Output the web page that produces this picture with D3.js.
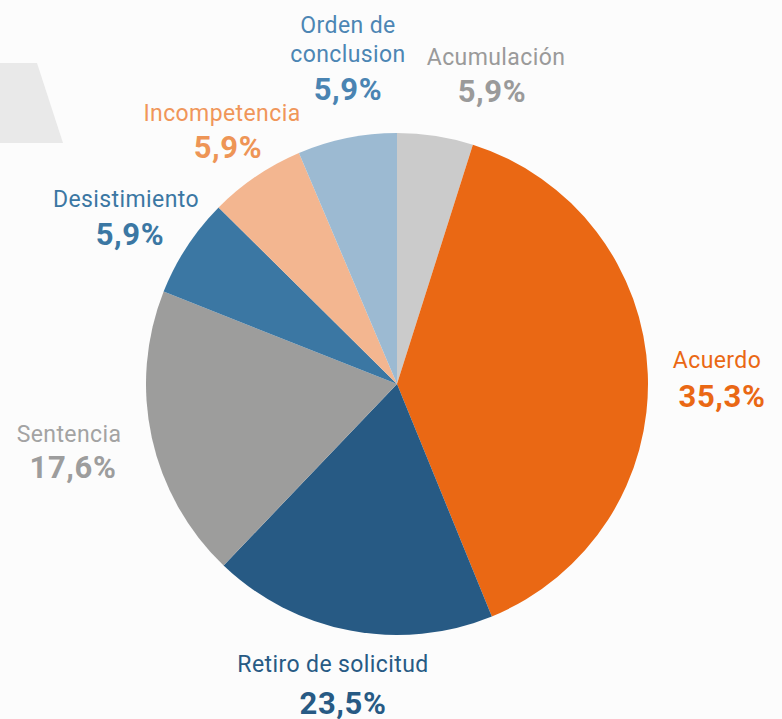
<!DOCTYPE html>
<html>
<head>
    <meta charset="utf-8">
    <script src="https://cdn.jsdelivr.net/npm/d3@7"></script>
    <style>
        body { margin: 0; background: #fcfcfc; font-family: Roboto, sans-serif; }
    </style>
</head>
<body>
<div id="chart"></div>
<script>
    // data (clockwise from 12 o'clock)
    var categories = ["Acumulación", "Acuerdo", "Retiro de solicitud", "Sentencia", "Desistimiento", "Incompetencia", "Orden de conclusion"];
    var pctLabels = ["5,9%", "35,3%", "23,5%", "17,6%", "5,9%", "5,9%", "5,9%"];
    // slice sizes as drawn in the picture (degrees of arc)
    var sliceValues = [17.6, 140.2, 65.9, 67.9, 23.1, 22.3, 23.0];
    var sliceColors = ["#cbcbcb", "#ea6814", "#275a84", "#9d9d9c", "#3b77a3", "#f3b690", "#9cbad2"];
    var labelColors = ["#9a9a9a", "#ea6814", "#275a84", "#a3a3a3", "#3b77a3", "#f0965a", "#4c86b4"];
    var pctColors = ["#9a9a9a", "#ea6814", "#275a84", "#9d9d9d", "#3b77a3", "#ee9556", "#4a84b2"];

    // label layout: name centre x / baseline y, pct centre x / baseline y
    var labelPos = [
        { x: 496, y: 65, px: 492, py: 102 },
        { x: 717, y: 368, px: 722, py: 407 },
        { x: 333, y: 672, px: 343, py: 714 },
        { x: 69, y: 442, px: 73, py: 478 },
        { x: 126, y: 207, px: 130, py: 245 },
        { x: 222, y: 121, px: 228, py: 158 },
        { x: 348, y: 33, px: 348, py: 100 }
    ];

    var W = 782, H = 719;
    var svg = d3.select("#chart").append("svg")
        .attr("width", W).attr("height", H);

    svg.append("rect").attr("width", W).attr("height", H).attr("fill", "#fcfcfc");
    // faint decorative background shape
    svg.append("path")
        .attr("d", "M0,63 L37,63 L63,143 L0,143 Z")
        .attr("fill", "#e9e9e9");

    var cx = 397, cy = 384, r = 251;

    var pie = d3.pie().sort(null).value(function (d) { return d; });
    var arc = d3.arc().innerRadius(0).outerRadius(r);

    var g = svg.append("g").attr("transform", "translate(" + cx + "," + cy + ")");
    g.selectAll("path")
        .data(pie(sliceValues))
        .enter()
        .append("path")
        .attr("d", arc)
        .attr("fill", function (d, i) { return sliceColors[i]; });

    // labels
    categories.forEach(function (c, i) {
        var p = labelPos[i];
        var lines = c == "Orden de conclusion" ? ["Orden de", "conclusion"] : [c];
        var t = svg.append("text")
            .attr("text-anchor", "middle")
            .attr("font-size", 23)
            .attr("letter-spacing", 0.4)
            .attr("fill", labelColors[i]);
        lines.forEach(function (l, j) {
            t.append("tspan").attr("x", p.x).attr("y", p.y + j * 29).text(l);
        });
        svg.append("text")
            .attr("text-anchor", "middle")
            .attr("x", p.px)
            .attr("y", p.py)
            .attr("font-size", 31)
            .attr("font-weight", "bold")
            .attr("letter-spacing", 0.6)
            .attr("fill", pctColors[i])
            .text(pctLabels[i]);
    });
</script>
</body>
</html>
